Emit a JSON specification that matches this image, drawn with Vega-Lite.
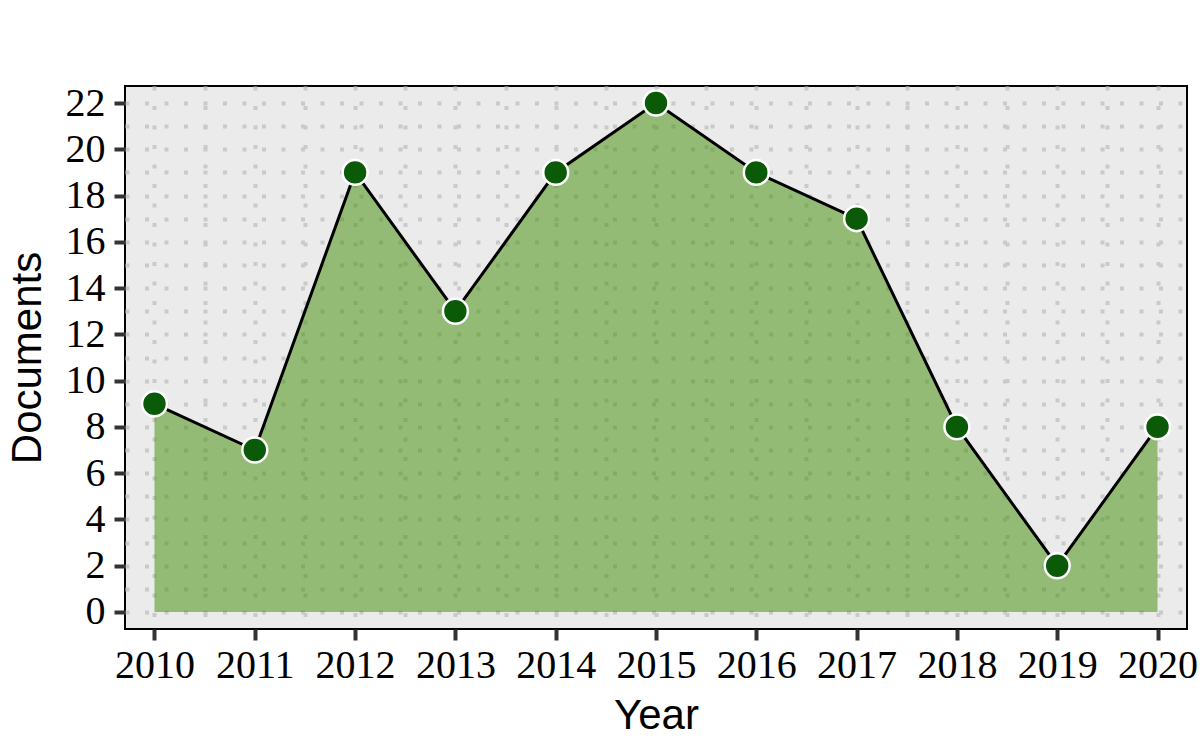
{
  "$schema": "https://vega.github.io/schema/vega-lite/v6.json",
  "autosize": {"type": "none"},
  "padding": {"left": 125, "top": 86, "right": 13, "bottom": 121},
  "width": 1062,
  "height": 543,
  "background": "white",
  "config": {
    "view": {"fill": "#EBEBEB", "stroke": "black", "strokeWidth": 2},
    "axis": {
      "domain": false,
      "labelFont": "Liberation Serif",
      "labelFontSize": 40,
      "labelColor": "black",
      "titleFont": "Liberation Sans",
      "titleFontSize": 42,
      "titleFontWeight": "normal",
      "titleColor": "black",
      "tickColor": "#333333",
      "tickWidth": 4,
      "tickSize": 11,
      "gridColor": "#CACACA",
      "gridWidth": 4,
      "gridDash": [4, 15.5],
      "labelOverlap": false,
      "labelBound": false,
      "labelFlush": false
    }
  },
  "data": {
    "values": [
      {"Year": 2010, "Documents": 9},
      {"Year": 2011, "Documents": 7},
      {"Year": 2012, "Documents": 19},
      {"Year": 2013, "Documents": 13},
      {"Year": 2014, "Documents": 19},
      {"Year": 2015, "Documents": 22},
      {"Year": 2016, "Documents": 19},
      {"Year": 2017, "Documents": 17},
      {"Year": 2018, "Documents": 8},
      {"Year": 2019, "Documents": 2},
      {"Year": 2020, "Documents": 8}
    ]
  },
  "encoding": {
    "x": {
      "field": "Year",
      "type": "quantitative",
      "scale": {"domain": [2009.706, 2020.294], "nice": false, "zero": false},
      "axis": {
        "title": "Year",
        "values": [2010, 2010.5, 2011, 2011.5, 2012, 2012.5, 2013, 2013.5, 2014, 2014.5, 2015, 2015.5, 2016, 2016.5, 2017, 2017.5, 2018, 2018.5, 2019, 2019.5, 2020],
        "labelExpr": "datum.value % 1 === 0 ? format(datum.value, 'd') : ''",
        "tickOpacity": {"condition": {"test": "datum.value % 1 !== 0", "value": 0}, "value": 1},
        "labelPadding": 5,
        "titlePadding": 10
      }
    },
    "y": {
      "field": "Documents",
      "type": "quantitative",
      "scale": {"domain": [-0.735, 22.735], "nice": false, "zero": false},
      "axis": {
        "title": "Documents",
        "values": [0, 1, 2, 3, 4, 5, 6, 7, 8, 9, 10, 11, 12, 13, 14, 15, 16, 17, 18, 19, 20, 21, 22],
        "labelExpr": "datum.value % 2 === 0 ? datum.label : ''",
        "tickOpacity": {"condition": {"test": "datum.value % 2 !== 0", "value": 0}, "value": 1},
        "labelPadding": 9,
        "titlePadding": 16
      }
    }
  },
  "layer": [
    {
      "mark": {"type": "area", "fill": "#3d8b01", "fillOpacity": 0.5},
      "encoding": {"y2": {"datum": 0}}
    },
    {
      "mark": {"type": "line", "color": "black", "strokeWidth": 3}
    },
    {
      "mark": {"type": "point", "shape": "circle", "filled": true, "fill": "#0b5a07", "fillOpacity": 1, "stroke": "white", "strokeWidth": 2.5, "strokeOpacity": 1, "size": 620}
    }
  ]
}
